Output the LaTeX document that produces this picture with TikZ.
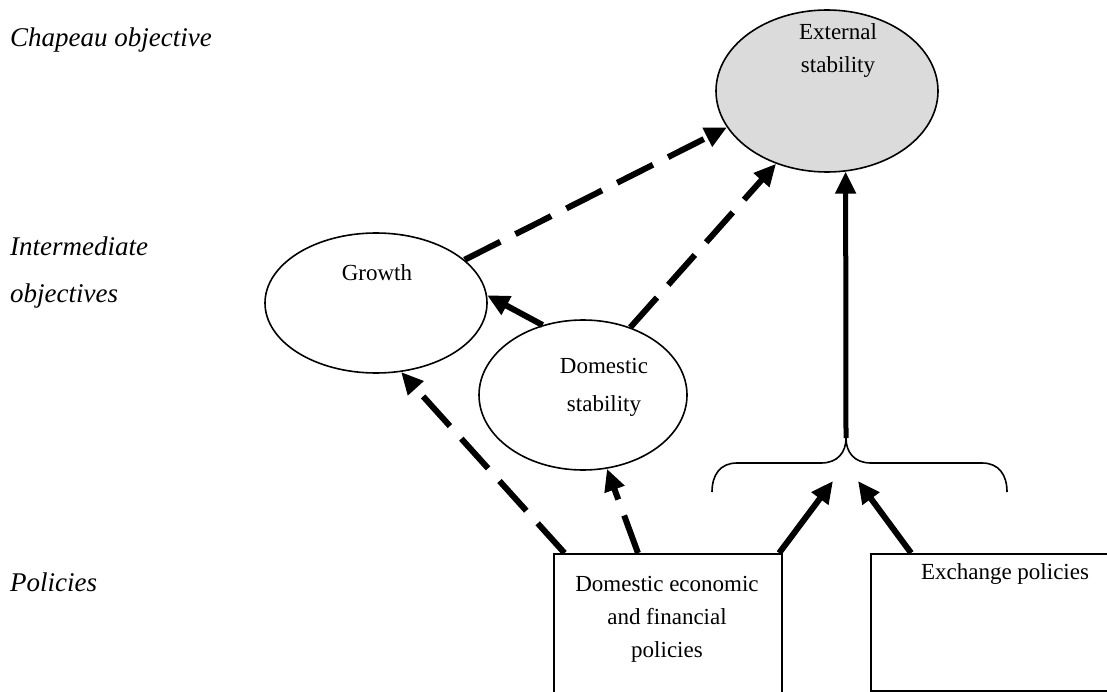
\documentclass[tikz,border=0pt]{standalone}
\usepackage{fontspec}
\setmainfont{Liberation Serif}
\usetikzlibrary{arrows.meta,calc,shapes.geometric}
\begin{document}
\begin{tikzpicture}[x=1pt,y=-1pt,
  ell/.style={draw,ellipse,line width=1.6pt,inner sep=0pt},
  txt/.style={font=\fontsize{23}{33}\selectfont,align=center,inner sep=0pt},
  lbl/.style={font=\fontsize{27}{50}\selectfont\itshape,anchor=west,inner sep=0pt},
  box/.style={draw,line width=1.6pt,inner sep=0pt,anchor=north west},
  arr/.style={line width=6pt,-{Triangle[length=22pt,width=20pt]}},
  darr/.style={arr,dash pattern=on 40pt off 17pt},
]
\useasboundingbox (0,0) rectangle (1107,692);
\clip (0,0) rectangle (1107,692);

% left labels
\node[lbl] (l1) at (10,40) {Chapeau objective};
\node[lbl] (l2) at (10,246) {Intermediate};
\node[lbl] (l3) at (10,296) {objectives};
\node[lbl] (l4) at (10,582) {Policies};

% ellipses
\node[ell,fill=black!14,minimum width=222pt,minimum height=162pt] (ext) at (827,91) {};
\node[txt] (text) at (838,51) {External\\stability};
\node[ell,minimum width=222pt,minimum height=140pt] (gro) at (376,303) {};
\node[txt] (tgro) at (377,273) {Growth};
\node[ell,minimum width=208pt,minimum height=150pt] (dom) at (583,395) {};
\node[txt,font=\fontsize{23}{38}\selectfont] (tdom) at (604,387) {Domestic\\stability};

% boxes
\node[box,minimum width=228pt,minimum height=160pt] (box1) at (553,553) {};
\node[txt] (tbox1) at (667,619) {Domestic economic\\and financial\\policies};
\node[box,minimum width=240pt,minimum height=137pt] (box2) at (870,553) {};
\node[txt] (tbox2) at (1005,574) {Exchange policies};

% brace
\coordinate (cusp) at (846,438);
\coordinate (bL) at (833,481);
\coordinate (bR) at (858,481);
\draw[line width=1.6pt] (712,492) .. controls (712,475) and (720,463) .. (737,463)
  -- (821,463) .. controls (838,463) and (846,452) .. (cusp)
  .. controls (846,452) and (854,463) .. (871,463) -- (982,463)
  .. controls (999,463) and (1007,475) .. (1007,492);

% connectors
\draw[darr] (gro.26) -- (ext.200);
\draw[darr] (dom.55) -- (ext.235);
\draw[arr] (dom.120) -- (gro.4);
\draw[darr] ($(box1.north west)!0.05!(box1.north east)$) -- (gro.290);
\draw[darr] ($(box1.north west)!0.37!(box1.north east)$) -- (dom.288);
\draw[arr] ($(box1.north west)!0.985!(box1.north east)$) -- (bL);
\draw[arr] ($(box2.north west)!0.17!(box2.north east)$) -- (bR);
\draw[arr,line width=5pt] (cusp) -- (ext.283);
\end{tikzpicture}
\end{document}
